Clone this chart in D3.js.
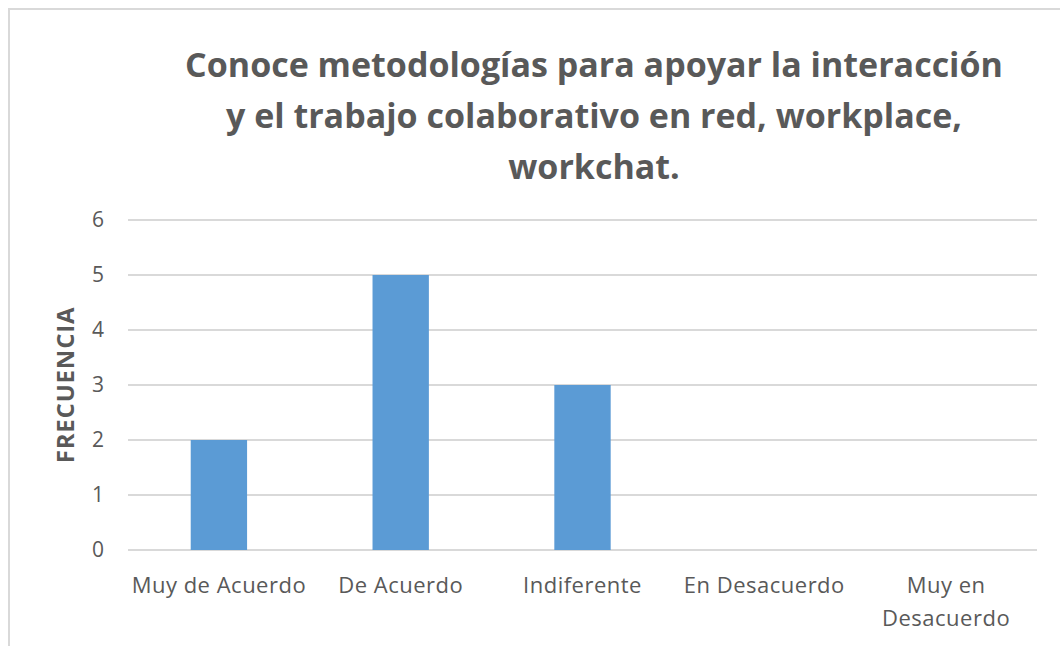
<!DOCTYPE html>
<html>
<head>
<meta charset="utf-8">
<script src="https://cdn.jsdelivr.net/npm/d3@7"></script>
<style>
  html, body { margin: 0; padding: 0; background: #fff; }
  svg { display: block; }
  text { font-family: "Open Sans", Lato, sans-serif; fill: #595959; }
</style>
</head>
<body>
<svg id="chart" width="1060" height="646"></svg>
<script>
const categories = ["Muy de Acuerdo", "De Acuerdo", "Indiferente", "En Desacuerdo", "Muy en Desacuerdo"];
const categoryLines = [["Muy de Acuerdo"], ["De Acuerdo"], ["Indiferente"], ["En Desacuerdo"], ["Muy en", "Desacuerdo"]];
const values = [2, 5, 3, 0, 0];
const yTicks = [0, 1, 2, 3, 4, 5, 6];
const titleLines = ["Conoce metodologías para apoyar la interacción", "y el trabajo colaborativo en red, workplace,", "workchat."];
const yLabel = "FRECUENCIA";

const svg = d3.select("#chart");

// frame
svg.append("rect")
  .attr("x", 9).attr("y", 9)
  .attr("width", 1100).attr("height", 700)
  .attr("fill", "#fff")
  .attr("stroke", "#d9d9d9").attr("stroke-width", 2);

const x = d3.scaleBand().domain(categories).range([128, 1037]).paddingInner(0.69).paddingOuter(0.345);
const y = d3.scaleLinear().domain([0, 6]).range([550, 220]);

// gridlines
svg.append("g").selectAll("line").data(yTicks).join("line")
  .attr("x1", 128).attr("x2", 1037)
  .attr("y1", d => y(d)).attr("y2", d => y(d))
  .attr("stroke", "#d9d9d9").attr("stroke-width", 2);

// bars
svg.append("g").selectAll("rect").data(values).join("rect")
  .attr("x", (d, i) => x(categories[i]))
  .attr("y", d => y(d))
  .attr("width", x.bandwidth())
  .attr("height", d => y(0) - y(d))
  .attr("fill", "#5b9bd5");

// y axis labels
const yAxis = d3.axisLeft(y).tickValues(yTicks).tickSize(0).tickPadding(0).tickFormat(d3.format("d"));
const gy = svg.append("g").attr("transform", "translate(104,0)").call(yAxis);
gy.select(".domain").remove();
gy.selectAll("text").attr("font-size", 21).attr("fill", "#595959").attr("font-family", "'Open Sans', sans-serif");

// x axis labels
const xAxis = d3.axisBottom(x).tickSize(0).tickFormat("");
const gx = svg.append("g").attr("transform", "translate(0,550)").call(xAxis);
gx.select(".domain").remove();
gx.selectAll(".tick").each(function(d, i) {
  const t = d3.select(this).append("text")
    .attr("text-anchor", "middle")
    .attr("font-size", 22)
    .attr("letter-spacing", 0.5)
    .attr("fill", "#595959")
    .attr("font-family", "'Open Sans', sans-serif");
  categoryLines[i].forEach((line, j) => {
    t.append("tspan").attr("x", 0).attr("y", 43 + j * 33).text(line);
  });
});

// y axis title
svg.append("text")
  .attr("transform", "translate(74,385) rotate(-90)")
  .attr("text-anchor", "middle")
  .attr("font-size", 24)
  .attr("letter-spacing", 0.8)
  .attr("font-weight", "bold")
  .text(yLabel);

// chart title
svg.append("g").selectAll("text").data(titleLines).join("text")
  .attr("x", 594)
  .attr("y", (d, i) => 77 + i * 51)
  .attr("text-anchor", "middle")
  .attr("font-size", 34)
  .attr("font-weight", "bold")
  .text(d => d);
</script>
</body>
</html>
